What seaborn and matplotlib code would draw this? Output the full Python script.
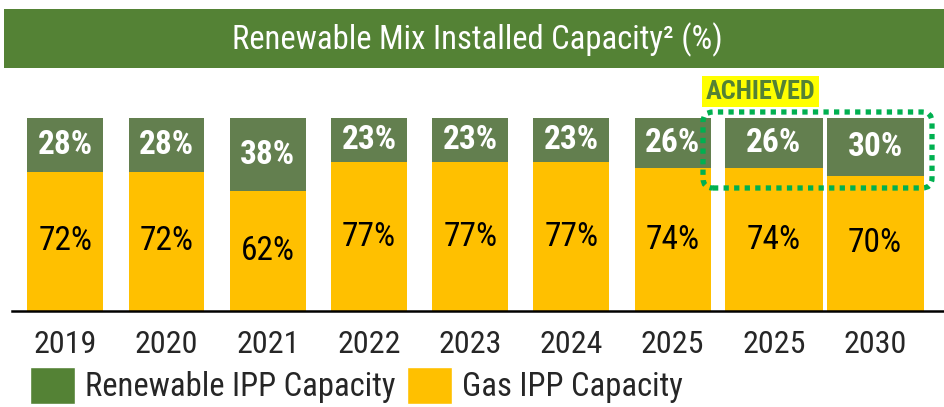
import numpy as np
import pandas as pd
import seaborn as sns
import matplotlib.pyplot as plt
from matplotlib.patches import Patch, FancyBboxPatch, Rectangle
from matplotlib.transforms import IdentityTransform

# Data
years = ['2019', '2020', '2021', '2022', '2023', '2024', '2025', '2025', '2030']
renewable = [28, 28, 38, 23, 23, 23, 26, 26, 30]
gas = [72, 72, 62, 77, 77, 77, 74, 74, 70]

green_bar = '#637F4F'
green_dark = '#548235'
yellow = '#FFC000'

sns.set_style('white')
plt.rcParams['font.family'] = ['Roboto Condensed', 'Open Sans', 'DejaVu Sans']
plt.rcParams['font.stretch'] = 'condensed'

df = pd.DataFrame({'slot': range(len(years)), 'renewable': renewable, 'gas': gas})
df['total'] = df['renewable'] + df['gas']

fig = plt.figure(figsize=(9.45, 4.07), dpi=100)
ax = fig.add_axes([0.013, 0.236, 0.987, 0.474])

# stacked bars: total in green, gas on top of it in yellow
sns.barplot(data=df, x='slot', y='total', color=green_bar, width=0.75,
            saturation=1, linewidth=0, ax=ax)
sns.barplot(data=df, x='slot', y='gas', color=yellow, width=0.75,
            saturation=1, linewidth=0, ax=ax)

# last two bars (plan) are drawn wider
n = len(years)
for i, p in enumerate(ax.patches):
    if i % n >= 7:
        c = p.get_x() + p.get_width() / 2
        p.set_width(0.96)
        p.set_x(c - 0.48)

for i in range(n):
    ax.text(i, gas[i] + renewable[i] / 2, f'{renewable[i]}%', ha='center', va='center',
            color='white', fontsize=24, fontweight='bold')
    ax.text(i, gas[i] / 2, f'{gas[i]}%', ha='center', va='center',
            color='black', fontsize=24)

ax.set_xlim(-0.523, 8.69)
ax.set_ylim(0, 100)
ax.set_xticks(range(n), years, fontsize=23)
ax.tick_params(axis='x', length=0, pad=14)
ax.set_yticks([])
ax.set_xlabel('')
ax.set_ylabel('')
for s in ['top', 'left', 'right']:
    ax.spines[s].set_visible(False)
ax.spines['bottom'].set_color('black')
ax.spines['bottom'].set_linewidth(1.8)

# title banner
fig.add_artist(Rectangle((0.004, 0.833), 0.996, 0.145, transform=fig.transFigure,
                         facecolor=green_dark, edgecolor='none'))
fig.text(0.505, 0.903, 'Renewable Mix Installed Capacity² (%)', ha='center', va='center',
         color='white', fontsize=23.5)

# achieved label and dotted frame
fig.text(0.7465, 0.775, 'ACHIEVED', ha='left', va='center', color=green_dark,
         fontsize=19, fontweight='bold',
         bbox=dict(facecolor='#FFFF00', edgecolor='none', pad=2.5))
fig.add_artist(FancyBboxPatch((703, 219), 229, 76, boxstyle='round,pad=0,rounding_size=10',
                              transform=IdentityTransform(), facecolor='none',
                              edgecolor='#00B050', linewidth=3.8, linestyle=(0, (1, 1))))

handles = [Patch(facecolor=green_dark, label='Renewable IPP Capacity'),
           Patch(facecolor=yellow, label='Gas IPP Capacity')]
fig.legend(handles=handles, loc='center left', bbox_to_anchor=(0.014, 0.053), ncol=2,
           frameon=False, fontsize=23.5, handlelength=1.4, handleheight=1.4,
           handletextpad=0.29, columnspacing=0.35, borderpad=0)

fig.savefig('out.png', dpi=100)
